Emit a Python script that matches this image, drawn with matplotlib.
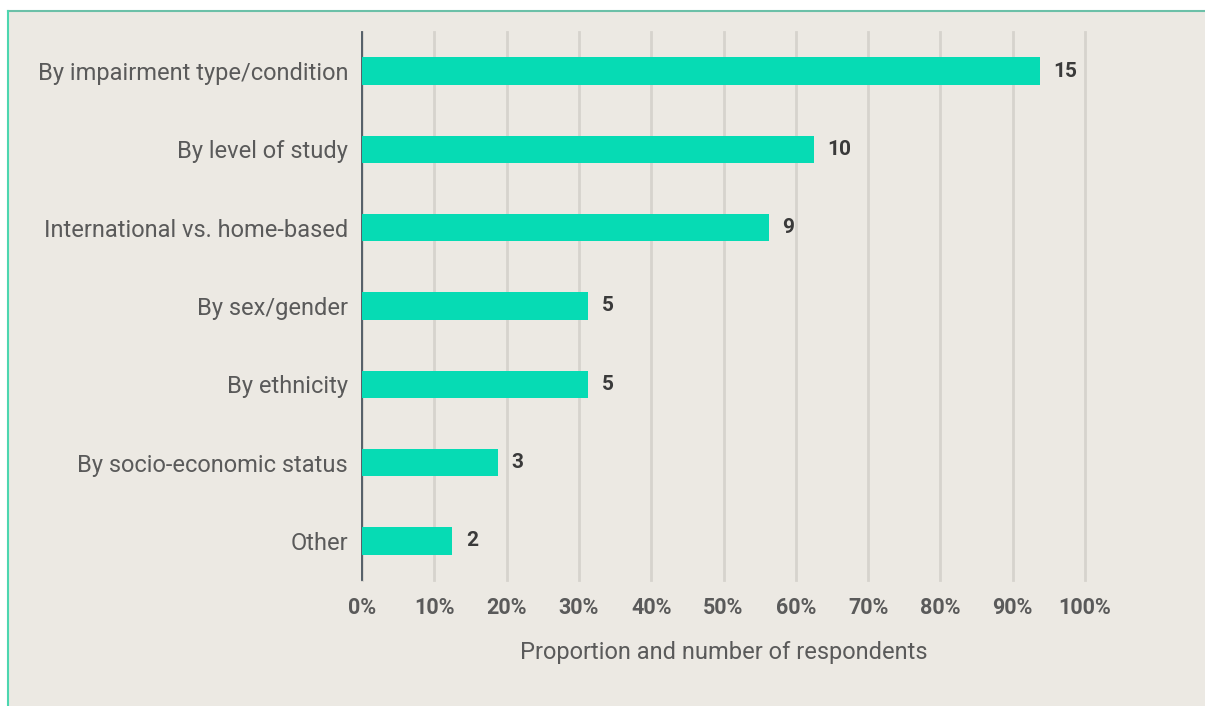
import matplotlib.pyplot as plt
import matplotlib.patches as mpatches
from matplotlib.ticker import FuncFormatter

categories = [
    "By impairment type/condition",
    "By level of study",
    "International vs. home-based",
    "By sex/gender",
    "By ethnicity",
    "By socio-economic status",
    "Other",
]
counts = [15, 10, 9, 5, 5, 3, 2]
total_respondents = 16
proportions = [c / total_respondents * 100 for c in counts]

bg = "#ece9e3"
bar_color = "#06dbb4"
text_color = "#5a5a5a"

plt.rcParams["font.family"] = ["Roboto", "DejaVu Sans"]

fig = plt.figure(figsize=(12.05, 7.06), dpi=100)
fig.patch.set_facecolor("white")

# beige panel with a teal edge on the top and left
W, H = 1205, 706
panel = mpatches.Rectangle((8 / W, 0), 1, 1 - 11 / H, transform=fig.transFigure,
                           facecolor=bg, edgecolor="none", zorder=-10)
fig.patches.append(panel)
fig.add_artist(plt.Line2D([8 / W, 1], [1 - 11 / H, 1 - 11 / H], transform=fig.transFigure,
                          color="#6cc0a8", lw=1.5, zorder=-9))
fig.add_artist(plt.Line2D([8 / W, 8 / W], [0, 1 - 11 / H], transform=fig.transFigure,
                          color="#4dd6b0", lw=1.5, zorder=-9))

ax = fig.add_axes([362 / W, 1 - 580 / H, (1085 - 362) / W, (580 - 32) / H])
ax.set_facecolor("none")

y = list(range(len(categories)))
ax.barh(y, proportions, height=0.35, color=bar_color, zorder=3)

for yi, p, c in zip(y, proportions, counts):
    ax.text(p + 1.9, yi, str(c), va="center", ha="left", fontsize=15,
            fontweight="bold", color="#3a3a3a", zorder=4)

ax.set_xlim(0, 100)
ax.set_ylim(len(categories) - 0.5, -0.5)
ax.set_xticks(range(0, 101, 10))
ax.xaxis.set_major_formatter(FuncFormatter(lambda v, _: f"{v:.0f}%"))
ax.set_yticks(y)
ax.set_yticklabels(categories)

ax.grid(axis="x", color="#d6d3cd", lw=2, zorder=0)
ax.set_axisbelow(True)
for gl in ax.get_xgridlines():
    gl.set_clip_on(False)

for s in ["top", "right", "bottom"]:
    ax.spines[s].set_visible(False)
ax.spines["left"].set_color("#4a5560")
ax.spines["left"].set_linewidth(1.3)

ax.tick_params(axis="y", length=0, pad=10, labelsize=17, labelcolor=text_color)
ax.tick_params(axis="x", length=0, pad=12, labelsize=15.5, labelcolor=text_color)
for lbl in ax.get_xticklabels():
    lbl.set_fontweight("bold")

ax.set_xlabel("Proportion and number of respondents", fontsize=17,
              color=text_color, labelpad=16)

plt.savefig("out.png", dpi=100, facecolor=fig.get_facecolor())
plt.close()
